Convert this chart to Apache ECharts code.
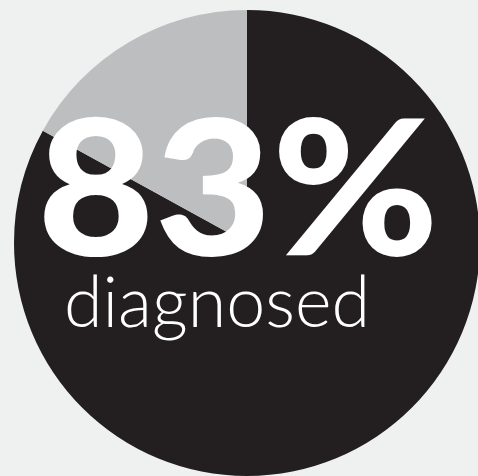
<!DOCTYPE html>
<html>
<head>
<meta charset="utf-8">
<script src="https://cdn.jsdelivr.net/npm/echarts@6/dist/echarts.min.js"></script>
<style>
html,body{margin:0;padding:0;background:#eff1f1;}
#c{width:478px;height:476px;}
</style>
</head>
<body>
<div id="c"></div>
<script>
const categories = ['diagnosed', 'not diagnosed'];
const values = [83, 17];
const sliceColors = ['#231f20', '#bcbec0'];
const bigLabel = '83%';
const subLabel = 'diagnosed';

const chart = echarts.init(document.getElementById('c'), null, {renderer: 'canvas'});
chart.setOption({
  backgroundColor: '#eff1f1',
  animation: false,
  series: [{
    type: 'pie',
    center: [247, 243],
    radius: [0, 233],
    startAngle: 90,
    clockwise: true,
    silent: true,
    label: {show: false},
    labelLine: {show: false},
    itemStyle: {borderWidth: 0},
    data: categories.map((name, i) => ({name, value: values[i], itemStyle: {color: sliceColors[i]}}))
  }],
  graphic: [
    {
      type: 'text',
      z: 100,
      x: 238, y: 288,
      scaleX: 1.075,
      style: {
        text: bigLabel,
        fill: '#ffffff',
        fontFamily: 'Lato, "Open Sans", sans-serif',
        fontWeight: 900,
        fontSize: 188,
        align: 'center',
        verticalAlign: 'bottom',
        shadowColor: 'rgba(0,0,0,0.75)',
        shadowBlur: 14
      }
    },
    {
      type: 'text',
      z: 100,
      x: 217, y: 339,
      style: {
        text: subLabel,
        fill: '#ffffff',
        fontFamily: 'Lato, "Open Sans", sans-serif',
        fontWeight: 300,
        fontSize: 70,
        align: 'center',
        verticalAlign: 'bottom',
        shadowColor: 'rgba(0,0,0,0.7)',
        shadowBlur: 8
      }
    }
  ]
});
</script>
</body>
</html>
